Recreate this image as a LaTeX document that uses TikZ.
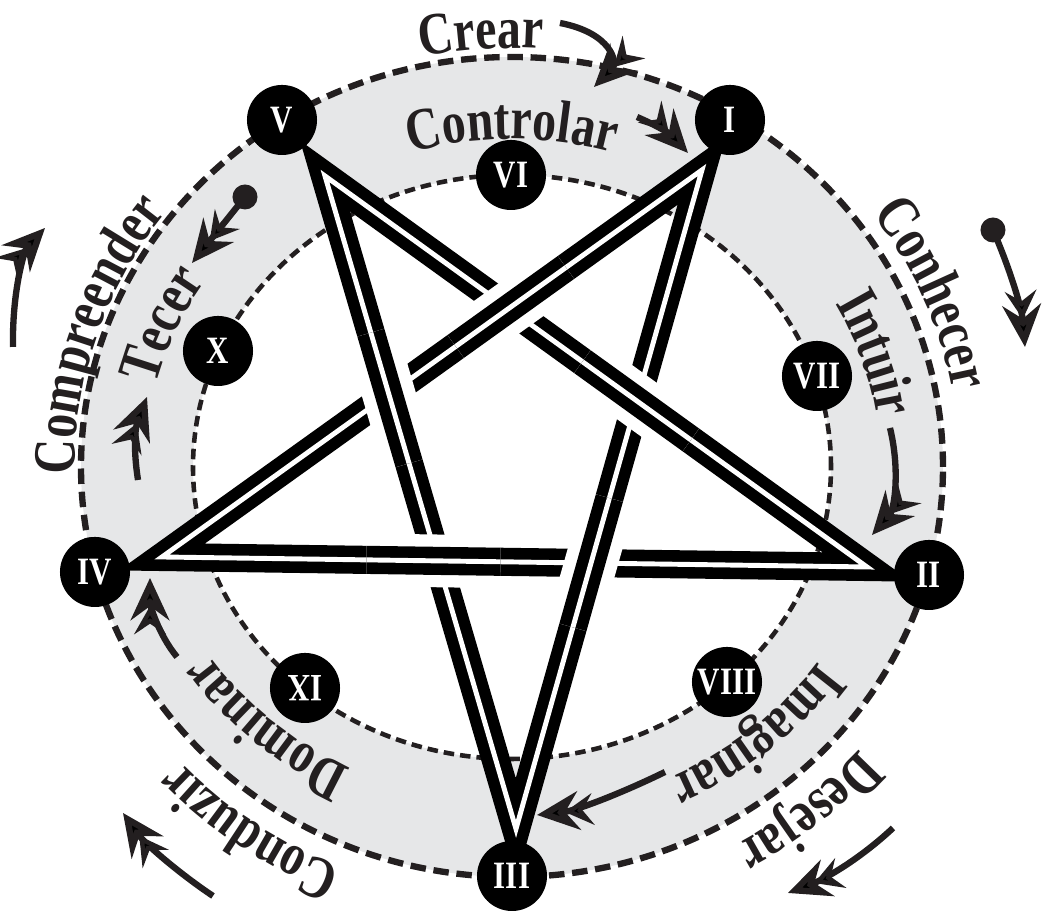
\documentclass[tikz,border=0pt]{standalone}
\usepackage{fontspec}
\usetikzlibrary{arrows.meta,calc,decorations.text}
\newfontfamily\ringfam[FakeStretch=0.8]{Liberation Serif}
\definecolor{ink}{RGB}{35,31,32}
\definecolor{band}{RGB}{230,231,232}
\newcommand\ringfont{\ringfam\bfseries\fontsize{17}{17}\selectfont}
\newcommand\numfont{\ringfam\bfseries\fontsize{11}{11}\selectfont}
\tikzset{
  vtx/.style={circle, fill=black, minimum size=7mm, inner sep=0pt,
    text=white, font=\numfont},
  strand/.style={draw=black, line width=3.3pt, double=white,
    double distance=1.4pt, line join=miter, miter limit=25},
  gapcut/.style={draw=white, line width=15pt},
  flow/.style={draw=ink, line width=1.8pt,
    -{Stealth[length=8pt,width=9pt,inset=3pt,sep=-4pt]Stealth[length=12pt,width=11pt,inset=4pt]}},
  dot/.style={circle, fill=ink, minimum size=2.5mm, inner sep=0pt},
  ringtext/.style={decorate, decoration={text along path, text align=center,
    text color=ink, text={|\ringfont|#1}}}
}
\begin{document}
\begin{tikzpicture}[x=0.01cm, y=0.01cm]
  \useasboundingbox (0,0) rectangle (1050,919);
  \coordinate (O) at (512,452);

  % grey ring between the two dashed ellipses
  \fill[band, even odd rule] (O) ellipse[x radius=431, y radius=410]
    (O) ellipse[x radius=319, y radius=292];
  \draw[ink, line width=1.8pt, dash pattern=on 4.4pt off 2.2pt]
    (O) ellipse[x radius=431, y radius=410];
  \draw[ink, line width=1.3pt, dash pattern=on 3pt off 1.7pt]
    (O) ellipse[x radius=319, y radius=292];

  % pentagram, then the over-crossings
  \coordinate (pV)   at (325,743);
  \coordinate (pIII) at (516,90);
  \coordinate (pI)   at (702,749);
  \coordinate (pIV)  at (162,362);
  \coordinate (pII)  at (867,352);
  \draw[strand] (pV) -- (pIII) -- (pI) -- (pIV) -- (pII) -- cycle;
  \foreach \a/\b/\s/\e in {pV/pIII/0.24/0.44, pIV/pII/0.29/0.48,
      pIII/pI/0.306/0.502, pII/pV/0.325/0.525, pI/pIV/0.252/0.456} {
    \draw[gapcut] ($(\a)!\s!(\b)$) -- ($(\a)!\e!(\b)$);
    \draw[strand] ($(\a)!\s!(\b)$) -- ($(\a)!\e!(\b)$);
  }

  % outer points
  \node[vtx] (n1) at (730,799) {I};
  \node[vtx] (n2) at (929,344) {II};
  \node[vtx] (n3) at (512,43)  {III};
  \node[vtx] (n4) at (95,347)  {IV};
  \node[vtx] (n5) at (282,799) {V};
  % inner points
  \node[vtx] (n6)  at (511,744) {VI};
  \node[vtx] (n7)  at (817,543) {VII};
  \node[vtx] (n8)  at (727,237) {VIII};
  \node[vtx, rotate=180] (n9) at (305,231) {IX};
  \node[vtx] (n10) at (218,568) {X};

  % words on the outer ring
  \path[ringtext=Crear] ($(O)+(134:440 and 419)$)
    arc[start angle=134, end angle=54, x radius=440, y radius=419];
  \path[ringtext=Conhecer] ($(O)+(63:448 and 427)$)
    arc[start angle=63, end angle=-17, x radius=448, y radius=427];
  \path[ringtext=Desejar] ($(O)+(-10:456 and 434)$)
    arc[start angle=-10, end angle=-90, x radius=456, y radius=434];
  \path[ringtext=Conduzir] ($(O)+(275:454 and 432)$)
    arc[start angle=275, end angle=195, x radius=454, y radius=432];
  \path[ringtext=Compreender] ($(O)+(212:437 and 416)$)
    arc[start angle=212, end angle=112, x radius=437, y radius=416];
  % words inside the grey ring
  \path[ringtext=Controlar] ($(O)+(130:356 and 328)$)
    arc[start angle=130, end angle=50, x radius=356, y radius=328];
  \path[ringtext=Intuir] ($(O)+(58:369 and 340)$)
    arc[start angle=58, end angle=-22, x radius=369, y radius=340];
  \path[ringtext=Imaginar] ($(O)+(-9:372 and 343)$)
    arc[start angle=-9, end angle=-89, x radius=372, y radius=343];
  \path[ringtext=Dominar] ($(O)+(268:365 and 336)$)
    arc[start angle=268, end angle=188, x radius=365, y radius=336];
  \path[ringtext=Tecer] ($(O)+(197:367 and 338)$)
    arc[start angle=197, end angle=117, x radius=367, y radius=338];

  % arrows
  \coordinate (crearS) at (560,896);  \coordinate (crearE) at (594,832);
  \draw[flow] (crearS) .. controls (612,886) and (618,856) .. (crearE);
  \coordinate (ctrlS) at (637,802);   \coordinate (ctrlE) at (688,766);
  \draw[flow] (ctrlS) to[bend left=12] (ctrlE);
  \node[dot] (ballL) at (245,722) {};
  \coordinate (tecE) at (192,656);
  \draw[flow] (ballL.center) -- (tecE);
  \coordinate (compS) at (13,572);    \coordinate (compE) at (45,691);
  \draw[flow] (compS) .. controls (12,630) and (25,670) .. (compE);
  \coordinate (tecS) at (138,439);    \coordinate (tecT) at (147,522);
  \draw[flow] (tecS) to[bend left=15] (tecT);
  \node[dot] (ballR) at (993,689) {};
  \coordinate (conE) at (1025,572);
  \draw[flow] (ballR.center) .. controls (1010,650) and (1022,610) .. (conE);
  \coordinate (intS) at (890,491);    \coordinate (intE) at (872,384);
  \draw[flow] (intS) .. controls (900,450) and (895,410) .. (intE);
  \coordinate (domS) at (177,262);    \coordinate (domE) at (150,341);
  \draw[flow] (domS) .. controls (158,285) and (150,315) .. (domE);
  \coordinate (cndS) at (213,23);     \coordinate (cndE) at (123,106);
  \draw[flow] (cndS) .. controls (180,45) and (145,75) .. (cndE);
  \coordinate (desS) at (893,91);     \coordinate (desE) at (788,26);
  \draw[flow] (desS) .. controls (860,60) and (825,40) .. (desE);
  \coordinate (imgS) at (665,147);    \coordinate (imgE) at (537,104);
  \draw[flow] (imgS) .. controls (620,125) and (575,108) .. (imgE);
\end{tikzpicture}
\end{document}
